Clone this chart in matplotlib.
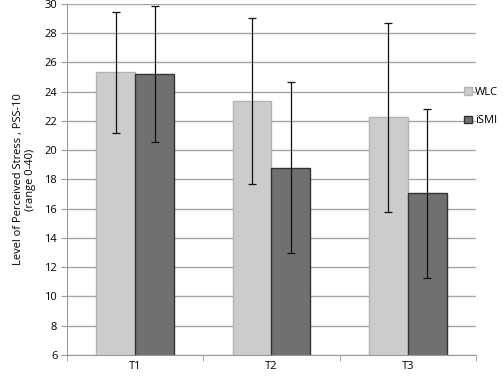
import matplotlib
matplotlib.use("Agg")

import matplotlib.pyplot as plt
import numpy as np

categories = ["T1", "T2", "T3"]
wlc_mean = [25.33, 23.37, 22.25]
wlc_sd = [4.15, 5.65, 6.48]
ismi_mean = [25.21, 18.81, 17.05]
ismi_sd = [4.62, 5.84, 5.80]

plt.rcParams["font.family"] = ["Open Sans", "DejaVu Sans"]

fig = plt.figure(figsize=(5.03, 3.76), dpi=100)
ax = fig.add_axes([0.1332, 0.0559, 0.8131, 0.9335])

x = np.arange(len(categories))
w = 0.2857

# gridlines
ax.set_axisbelow(True)
ax.yaxis.grid(True, color="#a6a6a6", linewidth=1.0)

ax.bar(x - w / 2, wlc_mean, w, color="#cccccc", edgecolor="#b3b3b3",
       linewidth=1, label="WLC")
ax.bar(x + w / 2, ismi_mean, w, color="#707070", edgecolor="#333333",
       linewidth=1, label="iSMI")

ax.errorbar(x - w / 2, wlc_mean, yerr=wlc_sd, fmt="none", ecolor="#111111",
            elinewidth=0.9, capsize=3, capthick=0.9)
ax.errorbar(x + w / 2, ismi_mean, yerr=ismi_sd, fmt="none", ecolor="#111111",
            elinewidth=0.9, capsize=3, capthick=0.9)

ax.set_ylim(6, 30)
ax.set_yticks(np.arange(6, 31, 2))
ax.set_xlim(-0.5, 2.5)
ax.set_xticks(x)
ax.set_xticklabels(categories)
ax.set_xticks([-0.5, 0.5, 1.5, 2.5], minor=True)
ax.tick_params(axis="x", which="major", length=0, pad=4, labelsize=8)
ax.tick_params(axis="x", which="minor", length=4, color="#999999")
ax.tick_params(axis="y", length=4, color="#999999", labelsize=8, pad=3)

for s in ["top", "right"]:
    ax.spines[s].set_visible(False)
ax.spines["left"].set_color("#999999")
ax.spines["bottom"].set_color("#999999")

ax.set_ylabel("Level of Perceived Stress , PSS-10\n(range 0-40)", fontsize=8,
              labelpad=6)

ax.legend(loc="center left", bbox_to_anchor=(0.96, 0.707), frameon=False,
          fontsize=8, handlelength=0.7, handleheight=0.7, handletextpad=0.3,
          labelspacing=1.55, borderaxespad=0)

fig.savefig("out.png", dpi=100)
